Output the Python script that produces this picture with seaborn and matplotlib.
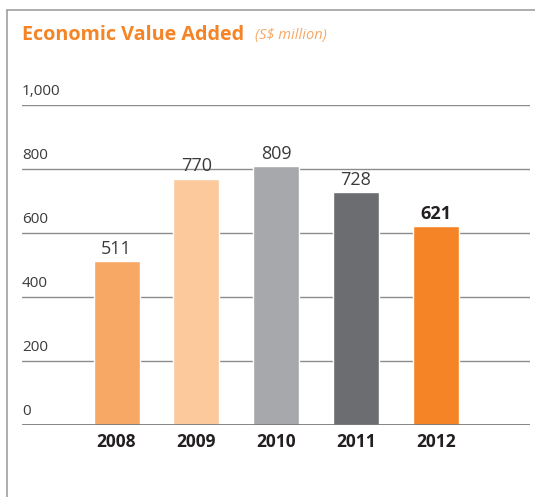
import matplotlib
matplotlib.use("Agg")
import matplotlib.pyplot as plt
import seaborn as sns
import pandas as pd
from matplotlib.lines import Line2D
from matplotlib.transforms import blended_transform_factory, offset_copy

years = ["2008", "2009", "2010", "2011", "2012"]
values = [511, 770, 809, 728, 621]
colors = ["#F7A864", "#FBC99C", "#A7A8AB", "#6C6D70", "#F58426"]
yticks = [0, 200, 400, 600, 800, 1000]
ytick_labels = ["0", "200", "400", "600", "800", "1,000"]

sns.set_theme(style="white")
plt.rcParams['font.family'] = ['Open Sans', 'DejaVu Sans']

W, H = 535, 497
fig = plt.figure(figsize=(W / 100, H / 100), dpi=100)
ax = fig.add_axes([22 / W, (H - 425) / H, (530 - 22) / W, (425 - 105) / H])

df = pd.DataFrame({"year": years, "value": values})
sns.barplot(data=df, x="year", y="value", hue="year", palette=colors,
            width=0.576, legend=False, ax=ax, saturation=1)

ax.set_ylim(0, 1000)
ax.set_xlim(-1.184, 5.18)
ax.set_xlabel("")
ax.set_ylabel("")
for s in ax.spines.values():
    s.set_visible(False)
ax.set_yticks([])
ax.tick_params(axis="x", length=0, pad=6)
for lab in ax.get_xticklabels():
    lab.set_fontweight("bold")
    lab.set_fontsize(12.5)
    lab.set_color("#231F20")

# gridlines
for t in yticks:
    if t == 0:
        ax.axhline(t, color="#7A7A7A", lw=2.0, zorder=3)
    else:
        ax.axhline(t, color="#8C8C8C", lw=1.0, zorder=0)

trans = offset_copy(blended_transform_factory(ax.transAxes, ax.transData), fig=fig, x=0, y=6, units="dots")
for t, lbl in zip(yticks, ytick_labels):
    ax.text(0.0, t, lbl, transform=trans, ha="left", va="bottom",
            fontsize=11, color="#3A3A3A")

# value labels
for i, (v, c) in enumerate(zip(values, colors)):
    ax.text(i, v + 10, f"{v}", ha="center", va="bottom", fontsize=13,
            color="#231F20" if i == len(values) - 1 else "#3A3A3A",
            fontweight="bold" if i == len(values) - 1 else "normal")

# title
fig.text(22 / W, 1 - 35 / H, "Economic Value Added", ha="left", va="center",
         fontsize=14.2, fontweight="bold", color="#F58426")
fig.text(255 / W, 1 - 35 / H, "(S$ million)", ha="left", va="center",
         fontsize=10.5, fontstyle="italic", color="#F7A864")

# frame
fig.add_artist(Line2D([7 / W, 7 / W], [0, 1 - 10 / H], color="#A0A0A0", lw=1.2,
                      transform=fig.transFigure))
fig.add_artist(Line2D([7 / W, 1], [1 - 10 / H, 1 - 10 / H], color="#A0A0A0", lw=1.2,
                      transform=fig.transFigure))

fig.savefig("out.png", dpi=100)
